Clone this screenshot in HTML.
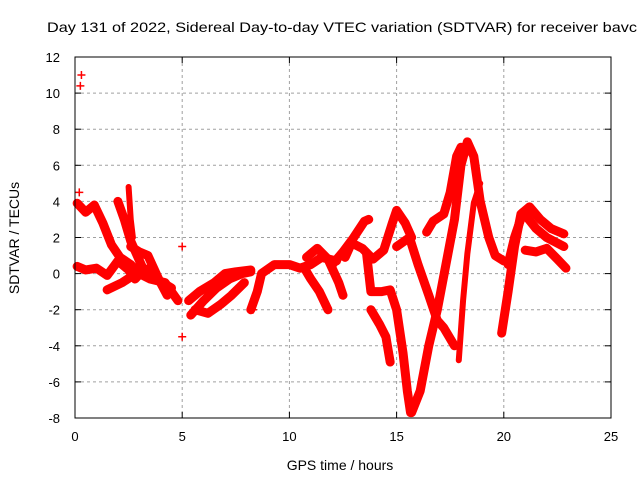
<!DOCTYPE html>
<html><head><meta charset="utf-8"><style>
body{margin:0;background:#fff;width:640px;height:480px;overflow:hidden}
svg text{font-family:"Liberation Sans",sans-serif;font-size:13px;fill:#000}
</style></head><body>
<svg id="chart" width="640" height="480" xmlns="http://www.w3.org/2000/svg">
<text x="47" y="32" textLength="590" lengthAdjust="spacingAndGlyphs" style="font-size:14px">Day 131 of 2022, Sidereal Day-to-day VTEC variation (SDTVAR) for receiver bavc</text>
<text x="340" y="470" text-anchor="middle" style="font-size:14px">GPS time / hours</text>
<text transform="translate(19,238) rotate(-90)" text-anchor="middle" style="font-size:14px">SDTVAR / TECUs</text>
<g id="grid"></g>
<g id="marks"></g>
<rect x="75" y="57" width="536" height="361" fill="none" stroke="#000" stroke-width="1"/>
</svg>
<script>
const xTicks=[0,5,10,15,20,25];
const yTicks=[-8,-6,-4,-2,0,2,4,6,8,10,12];
const track1=[[0.1,3.9],[0.5,3.4],[0.9,3.8],[1.3,2.8],[1.7,1.6],[2.1,0.9],[2.6,0.5],[3.0,0.0],[3.5,-0.3],[4.2,-0.5],[4.8,-1.5]];
const track2=[[0.1,0.4],[0.5,0.2],[1.0,0.3],[1.5,-0.1],[2.0,0.7],[2.5,0.2],[2.8,-0.3],[3.2,0.2],[3.8,-0.3],[4.5,-0.8]];
const track3=[[1.5,-0.9],[2.2,-0.5],[2.9,0.05],[3.5,0.3]];
const track4=[[2.0,4.0],[2.3,3.0],[2.6,1.8],[2.9,1.0],[3.2,0.2]];
const track5=[[2.5,4.8],[2.6,3.0],[2.7,2.0]];
const track6=[[2.6,1.5],[3.0,1.2],[3.4,1.0],[3.9,-0.3],[4.3,-1.2]];
const track7=[[5.4,-2.3],[6.0,-1.5],[6.6,-0.8],[7.2,-0.3],[7.8,0.0],[8.2,0.1]];
const track8=[[5.3,-1.5],[5.8,-1.0],[6.5,-0.5],[7.0,0.0],[7.5,0.1],[8.2,0.2]];
const track9=[[5.6,-2.0],[6.2,-2.2],[6.8,-1.7],[7.3,-1.2],[7.9,-0.5]];
const track10=[[8.2,-2.0],[8.5,-1.0],[8.7,0.0],[9.3,0.5],[10.0,0.5],[10.5,0.3],[11.0,0.5],[11.5,0.9],[12.2,0.7]];
const track11=[[10.7,0.3],[11.0,-0.3],[11.4,-1.0],[11.8,-2.0]];
const track12=[[10.8,0.9],[11.3,1.4],[11.8,0.8],[12.3,-0.5],[12.5,-1.2]];
const track13=[[12.0,0.5],[12.5,1.2],[13.0,2.0],[13.5,2.9],[13.7,3.0]];
const track14=[[12.6,0.9],[12.9,1.7],[13.4,1.4],[13.9,0.8],[14.4,1.3],[14.8,2.8],[15.0,3.5],[15.4,2.8],[15.7,2.0]];
const track15=[[13.6,1.1],[13.8,-1.0],[14.3,-1.0],[14.7,-0.9],[15.0,-2.0],[15.3,-4.4],[15.5,-6.5],[15.65,-7.7]];
const track16=[[13.8,-2.0],[14.2,-2.8],[14.5,-3.5],[14.7,-4.9]];
const track17=[[15.0,1.5],[15.6,2.0],[16.0,0.5],[16.5,-1.2],[16.9,-2.6],[17.2,-3.0],[17.7,-4.0]];
const track18=[[15.7,-7.7],[16.1,-6.5],[16.5,-4.0],[16.9,-2.0],[17.3,0.5],[17.7,3.0],[18.0,6.0],[18.3,7.3],[18.6,6.5],[18.9,4.0],[19.3,2.0],[19.6,1.0],[20.0,0.7]];
const track19=[[16.4,2.3],[16.7,2.9],[17.2,3.3],[17.5,4.5],[17.8,6.5],[18.0,7.0]];
const track20=[[17.9,-4.8],[18.1,-1.5],[18.3,1.1],[18.6,3.9],[18.9,5.0]];
const track21=[[19.9,-3.3],[20.2,-1.0],[20.5,1.5],[20.8,3.3],[21.2,3.7],[21.7,3.0],[22.2,2.5],[22.8,2.2]];
const track22=[[20.2,0.5],[20.5,2.0],[20.9,3.4],[21.5,2.5],[22.0,2.0],[22.8,1.5]];
const track23=[[21.0,1.3],[21.5,1.2],[22.0,1.4],[22.5,0.8],[22.9,0.3]];
const outliers=[[0.25,10.4],[0.3,11.0],[0.2,4.5],[5.0,1.5],[5.0,-3.5],[8.3,-2.0]];
const tracks=[track1,track2,track3,track4,track5,track6,track7,track8,track9,track10,track11,track12,track13,track14,track15,track16,track17,track18,track19,track20,track21,track22,track23];
const sparse=[4,19];
const X=h=>75+h*(536/25);
const Y=v=>418-(v+8)*(361/20);
const NS="http://www.w3.org/2000/svg";
const grid=document.getElementById('grid');
const marks=document.getElementById('marks');
function mk(t,a,p){const e=document.createElementNS(NS,t);for(const k in a)e.setAttribute(k,a[k]);p.appendChild(e);return e;}
xTicks.forEach(t=>{
  const x=X(t);
  if(t>0&&t<25){const g=mk('line',{x1:x,x2:x,y1:57,y2:418,stroke:'#a0a0a0','stroke-dasharray':'3,3'},grid);
  
  }
  mk('line',{x1:x,x2:x,y1:418,y2:412,stroke:'#000'},grid);
  mk('line',{x1:x,x2:x,y1:57,y2:63,stroke:'#000'},grid);
  const tx=mk('text',{x:x,y:441,'text-anchor':'middle'},grid);tx.textContent=t;
  
  
});
yTicks.forEach(t=>{
  const y=Y(t);
  if(t>-8&&t<12){const g=mk('line',{x1:75,x2:611,y1:y,y2:y,stroke:'#a0a0a0','stroke-dasharray':'3,3'},grid);
  
  }
  mk('line',{x1:75,x2:81,y1:y,y2:y,stroke:'#000'},grid);
  mk('line',{x1:605,x2:611,y1:y,y2:y,stroke:'#000'},grid);
  const tx=mk('text',{x:60,y:y+5,'text-anchor':'end'},grid);tx.textContent=t;
  
  
});
tracks.forEach((tr,i)=>{
  const pts=tr.map(p=>X(p[0])+','+Y(p[1])).join(' ');
  const pl=mk('polyline',{points:pts,fill:'none',stroke:'#ff0000','stroke-width':sparse.includes(i)?6:9,'stroke-linejoin':'round','stroke-linecap':'round'},marks);
  
  
});
outliers.forEach(p=>{
  const x=X(p[0]),y=Y(p[1]);
  const pt=mk('path',{d:`M${x-4},${y}H${x+4}M${x},${y-4}V${y+4}`,stroke:'#ff0000','stroke-width':1.5},marks);
  
  
});
</script>
</body></html>
